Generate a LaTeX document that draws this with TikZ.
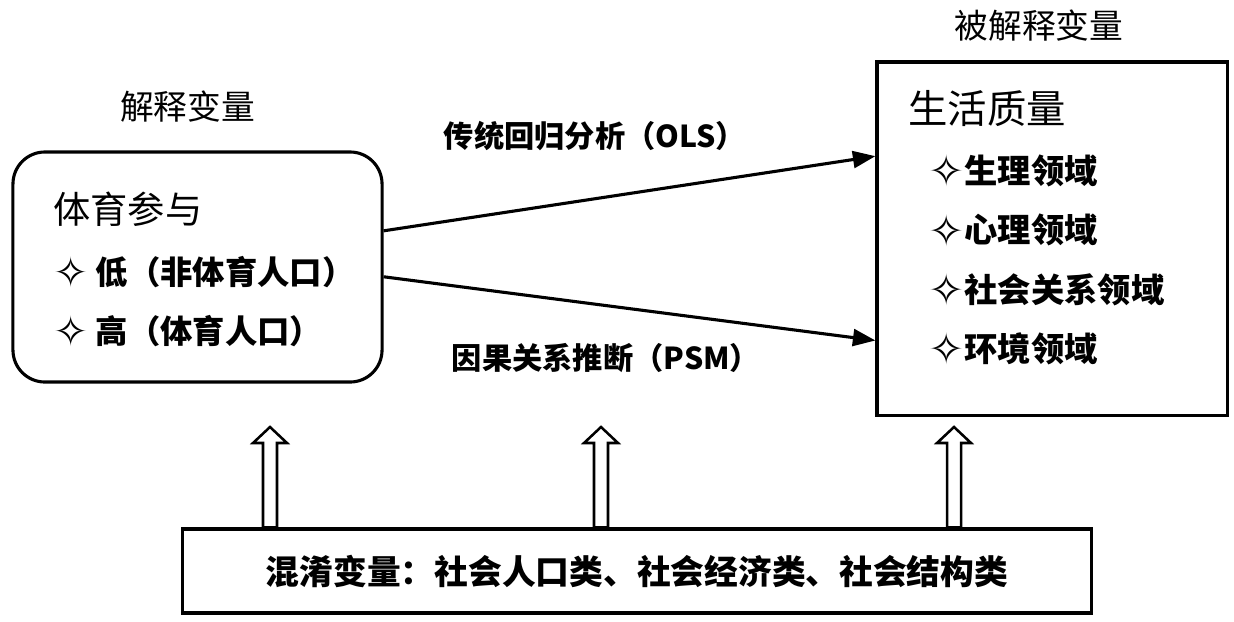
\documentclass[tikz,border=0pt]{standalone}
\usepackage{fontspec}
\setmainfont{Noto Sans CJK SC}
\newfontfamily\symfont{DejaVu Sans}
\usetikzlibrary{arrows.meta,calc}
\newcommand{\dia}{\raisebox{-.1em}{\scalebox{1.3}{\symfont\bfseries ✧}}}

\begin{document}
\begin{tikzpicture}[x=.025cm,y=-.025cm,
	box/.style={draw,line width=2.2pt,inner sep=0},
	txt/.style={inner sep=0,font=\bfseries\fontsize{23}{28}\selectfont},
	head/.style={inner sep=0,font=\fontsize{24}{28}\selectfont},
	link/.style={line width=2.2pt,-{Triangle[length=16pt,width=12pt]}},
	hollow/.style={draw,fill=white,line width=1.8pt,line join=miter}]
			\useasboundingbox (0,0) rectangle (1234,621);
			\node[box,rounded corners=.8cm,minimum width=9.225cm,minimum height=5.75cm] (part) at (197.5,267) {};
			\node[box,minimum width=8.75cm,minimum height=8.825cm] (qol) at (1052,238.5) {};
			\node[box,minimum width=22.7cm,minimum height=2.1cm,font=\bfseries\fontsize{24}{28}\selectfont] (conf) at (637,571) {混淆变量：社会人口类、社会经济类、社会结构类};
			\node[head] (explab) at (187.5,107) {解释变量};
			\node[head] (reslab) at (1039,26) {被解释变量};
			\node[head,anchor=west,font=\fontsize{26.5}{30}\selectfont] (sport) at (53,209) {体育参与};
			\node[head,anchor=west,font=\fontsize{28}{32}\selectfont] (life) at (908,109) {生活质量};
			\foreach \t/\y [count=\i] in {低（非体育人口）/272,高（体育人口）/331} \node[txt,anchor=west] (lvl\i) at (53,\y) {\dia\ \t};
			\foreach \t [count=\i from 0] in {生理领域,心理领域,社会关系领域,环境领域} \node[txt,anchor=west,font=\bfseries\fontsize{23.7}{28}\selectfont] (dom\i) at (928,{171+59.3*\i}) {\dia\t};
			\node[txt,font=\bfseries\fontsize{21.5}{26}\selectfont] (ols) at (595,136) {传统回归分析（OLS）};
			\node[txt,font=\bfseries\fontsize{21.5}{26}\selectfont] (psm) at (606,358) {因果关系推断（PSM）};
			\draw[link] (part.11.9) -- (qol.155);
			\draw[link] (part.-3.7) -- (qol.210.6);
			\foreach \x in {270,601,954} \draw[hollow] (\x,427) coordinate (tip) -- ++(17,16) -- ++(-10,0) coordinate (r) -- (r |- conf.north) -- ++(-14,0) coordinate (l) -- (l |- r) -- ++(-10,0) -- cycle;
		\end{tikzpicture}
\end{document}
